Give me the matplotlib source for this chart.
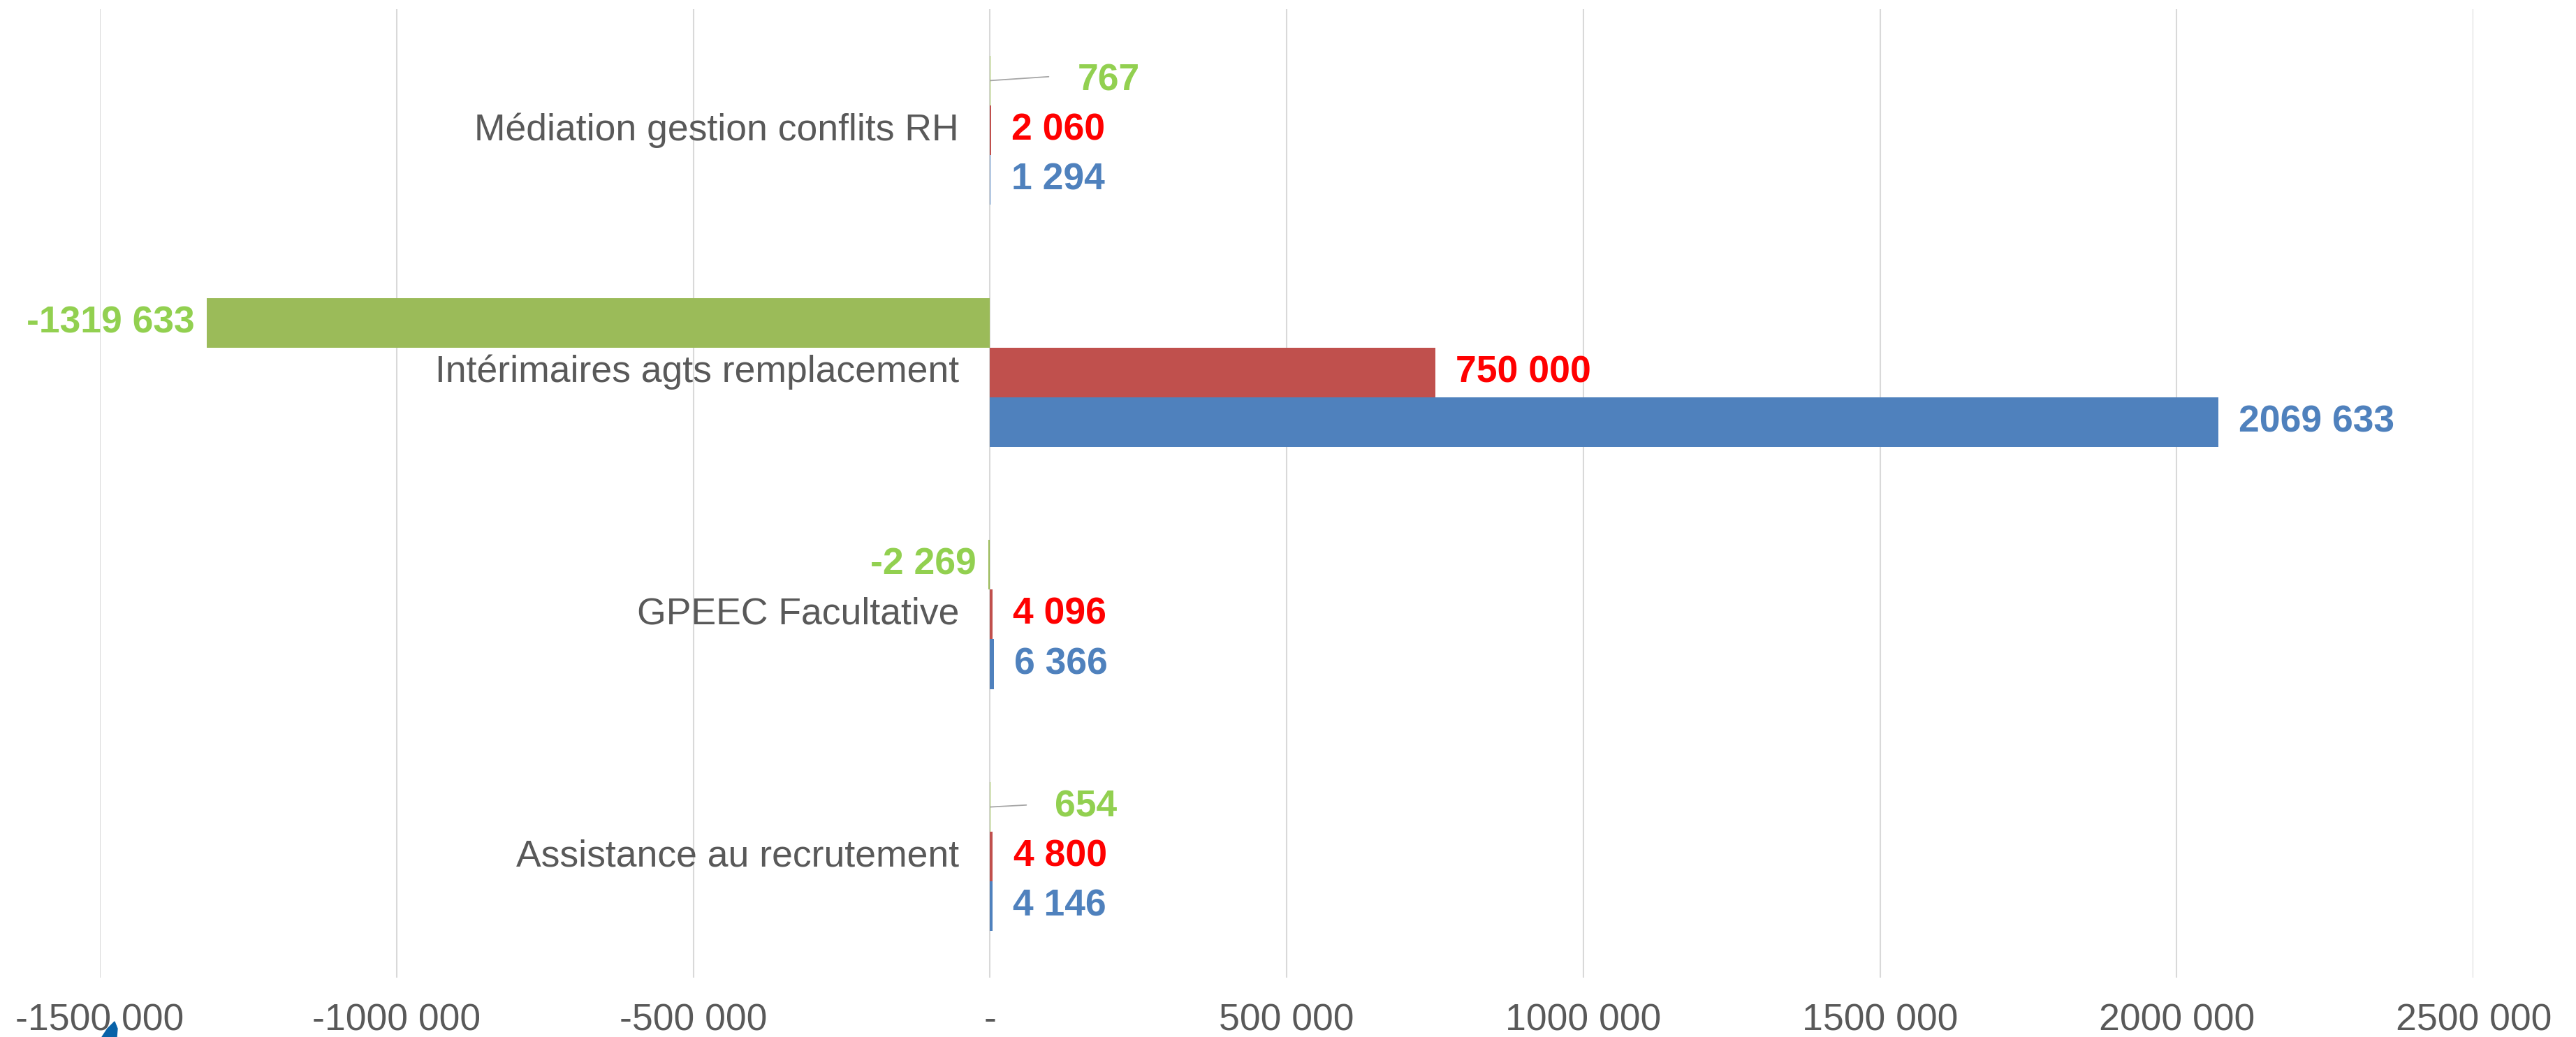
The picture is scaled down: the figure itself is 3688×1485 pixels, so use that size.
"""Excel-style grouped horizontal bars: budget vs realise vs ecart"""
import matplotlib
matplotlib.use("Agg")
import matplotlib.pyplot as plt
from matplotlib.patches import Polygon
import numpy as np

categories = ["Assistance au recrutement", "GPEEC Facultative",
              "Intérimaires agts remplacement", "Médiation gestion conflits RH"]
blue_vals = [4146, 6366, 2069633, 1294]
red_vals = [4800, 4096, 750000, 2060]
green_vals = [654, -2269, -1319633, 767]
xticks = [-1500000, -1000000, -500000, 0, 500000, 1000000, 1500000, 2000000, 2500000]

BLUE, RED, GREEN = "#4F81BD", "#C0504D", "#9BBB59"
BLUE_TXT, RED_TXT, GREEN_TXT = "#4F81BD", "#FF0000", "#92D050"
GREY = "#595959"
FS = 38.5


def fmt(v):
    if v == 0:
        return "-"
    a = abs(int(round(v)))
    s = "-" if v < 0 else ""
    if a >= 1000:
        return f"{s}{a // 1000} {a % 1000:03d}"
    return f"{s}{a}"


def main():
    plt.rcParams['font.family'] = ['Liberation Sans', 'DejaVu Sans']
    fig = plt.figure(figsize=(36.88, 14.85), dpi=100)
    ax = fig.add_axes([0.0388, 0.0572, 0.9214, 0.934])

    y = np.arange(len(categories))
    h = 0.205
    ax.barh(y - h, blue_vals, height=h, color=BLUE, zorder=2)
    ax.barh(y, red_vals, height=h, color=RED, zorder=2)
    ax.barh(y + h, green_vals, height=h, color=GREEN, zorder=2)

    ax.set_xlim(xticks[0], xticks[-1])
    ax.set_ylim(-0.5, len(categories) - 0.5)
    ax.set_xticks(xticks)
    ax.set_xticklabels([fmt(t) for t in xticks], fontsize=FS, color=GREY)
    ax.set_yticks([])
    ax.tick_params(axis='x', length=0, pad=26)
    ax.grid(axis='x', color='#D9D9D9', linewidth=1.5, zorder=0)
    ax.set_axisbelow(True)
    for sp in ax.spines.values():
        sp.set_visible(False)

    # category names sit just left of zero
    for yi, name in zip(y, categories):
        ax.annotate(name, xy=(0, yi), xytext=(-32, 0), textcoords='offset points',
                    ha='right', va='center', fontsize=FS, color=GREY)

    def label(v, yy, color, dx_pos=21, dx_neg=-13):
        if v >= 0:
            ax.annotate(fmt(v), xy=(v, yy), xytext=(dx_pos, 0), textcoords='offset points',
                        ha='left', va='center', fontsize=FS, fontweight='bold', color=color)
        else:
            ax.annotate(fmt(v), xy=(v, yy), xytext=(dx_neg, 0), textcoords='offset points',
                        ha='right', va='center', fontsize=FS, fontweight='bold', color=color)

    for yi, b, r in zip(y, blue_vals, red_vals):
        label(b, yi - h, BLUE_TXT)
        label(r, yi, RED_TXT)

    # green labels: the two small positive ones were dragged out with leader lines
    moved = {0: (66, 37, 2), 3: (90, 60, 4)}
    for yi, g in zip(y, green_vals):
        if yi in moved:
            tx, lx, ly = moved[yi]
            ax.annotate("", xy=(g, y[yi] + h), xytext=(lx, ly), textcoords='offset points',
                        arrowprops=dict(arrowstyle='-', color='#A6A6A6', lw=1.3,
                                        shrinkA=0, shrinkB=0))
            ax.annotate(fmt(g), xy=(g, y[yi] + h), xytext=(tx, 0), textcoords='offset points',
                        ha='left', va='center', fontsize=FS, fontweight='bold', color=GREEN_TXT)
        else:
            label(g, yi + h, GREEN_TXT)

    # small blue marker clipped at the bottom edge
    blob = Polygon([(1.64, 0.22), (1.68, 0.12), (1.67, 0.0), (1.46, 0.0), (1.54, 0.12)],
                   closed=True, transform=fig.dpi_scale_trans, color='#0862A8')
    fig.patches.append(blob)

    fig.savefig("out.png", dpi=100)


if __name__ == '__main__':
    main()
